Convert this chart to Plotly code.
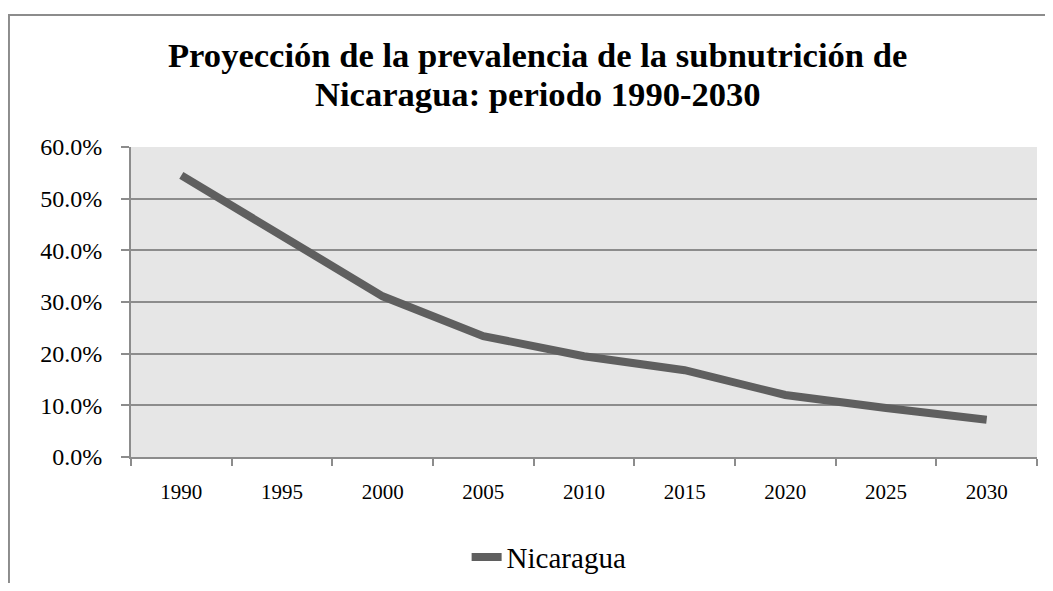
import plotly.graph_objects as go

# datos de la proyección
anios = ["1990", "1995", "2000", "2005", "2010", "2015", "2020", "2025", "2030"]
prevalencia = [0.545, 0.428, 0.311, 0.234, 0.195, 0.168, 0.120, 0.095, 0.072]
y_ticks = [0.0, 0.1, 0.2, 0.3, 0.4, 0.5, 0.6]

gris = "#8c8c8c"
fuente = "Liberation Serif"

fig = go.Figure()
fig.add_trace(go.Scatter(
    x=anios, y=prevalencia, mode="lines", name="Nicaragua",
    line=dict(color="#5f5f5f", width=8),
))

# la página añade 8px de margen, así que la figura es 16px más pequeña
fig.update_layout(
    width=1037, height=575,
    margin=dict(l=123, r=8, t=139, b=126, autoexpand=False),
    paper_bgcolor="white", plot_bgcolor="#e6e6e6",
    font=dict(family=fuente, color="black"),
    showlegend=True,
    legend=dict(orientation="h", x=0.4615, y=0.045, yref="container",
                xanchor="center", yanchor="middle",
                font=dict(size=29, family=fuente)),
    annotations=[
        dict(text="<b>Proyección de la prevalencia de la subnutrición de</b>",
             xref="paper", yref="paper", x=0.4487, y=1.296, xanchor="center", yanchor="middle",
             showarrow=False, font=dict(size=34.6, family=fuente)),
        dict(text="<b>Nicaragua: periodo 1990-2030</b>",
             xref="paper", yref="paper", x=0.4487, y=1.171, xanchor="center", yanchor="middle",
             showarrow=False, font=dict(size=34.6, family=fuente)),
    ],
    shapes=[dict(type="rect", xref="paper", yref="paper",
                 x0=-0.1347, y0=-0.5, x1=1.05, y1=1.4258,
                 line=dict(color=gris, width=2), layer="below")],
)

fig.update_xaxes(
    type="category", range=[-0.5, 8.5], tickson="boundaries", ticks="outside", ticklen=7,
    tickcolor=gris, tickwidth=2, showline=True, linecolor=gris, linewidth=2, showgrid=False,
    tickfont=dict(size=21, family=fuente), ticklabelstandoff=15, automargin=False,
)
fig.update_yaxes(
    range=[0, 0.6], tickvals=y_ticks, tickformat=".1%", ticks="outside", ticklen=8,
    tickcolor=gris, tickwidth=2, showline=True, linecolor=gris, linewidth=2,
    showgrid=True, gridcolor=gris, gridwidth=2, zeroline=False,
    tickfont=dict(size=24, family=fuente), ticklabelstandoff=14, automargin=False,
)

fig.write_html("out.html")
